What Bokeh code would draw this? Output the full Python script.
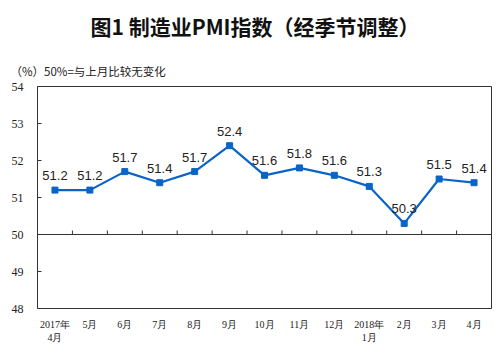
from bokeh.plotting import figure
from bokeh.models import FixedTicker, Range1d, Span, ColumnDataSource, Title
from bokeh.core.properties import value
from bokeh.embed import file_html
from bokeh.resources import INLINE

months = ["2017年\n4月", "5月", "6月", "7月", "8月", "9月", "10月", "11月", "12月",
          "2018年\n1月", "2月", "3月", "4月"]
pmi = [51.2, 51.2, 51.7, 51.4, 51.7, 52.4, 51.6, 51.8, 51.6, 51.3, 50.3, 51.5, 51.4]
y_ticks = [48, 49, 50, 51, 52, 53, 54]
baseline = 50
title_text = "图1 制造业PMI指数（经季节调整）"
note_text = "（%）50%=与上月比较无变化"

n = len(months)
xs = [i + 0.5 for i in range(n)]
labels = [f"{v:.1f}" for v in pmi]

p = figure(width=498, height=355, output_backend="svg", toolbar_location=None,
           x_range=Range1d(0, n), y_range=Range1d(y_ticks[0], y_ticks[-1]),
           min_border_left=37, min_border_right=7, min_border_top=86, min_border_bottom=47)
p.outline_line_color = "#333333"
p.outline_line_width = 1
p.xgrid.visible = False
p.ygrid.visible = False
p.background_fill_color = "white"
p.border_fill_color = "white"

# main title (outermost)
p.title.text = title_text
p.title.align = "left"
p.title.offset = 53
p.title.standoff = 20
p.title.vertical_align = "top"
p.title.text_line_height = 1.0
p.title.text_font = "Noto Sans CJK SC"
p.title.text_font_style = "bold"
p.title.text_font_size = "21px"
p.title.text_color = "#111111"

# y axis
p.yaxis.ticker = FixedTicker(ticks=y_ticks)
p.yaxis.axis_line_color = None
p.yaxis.major_tick_in = 4
p.yaxis.major_tick_out = 0
p.yaxis.minor_tick_line_color = None
p.yaxis.major_tick_line_color = "#333333"
p.yaxis.major_label_text_font = "serif"
p.yaxis.major_label_text_font_size = "12px"
p.yaxis.major_label_text_color = "#222222"
p.yaxis.major_label_standoff = 14

# x axis
p.xaxis.ticker = FixedTicker(ticks=xs)
p.xaxis.major_label_overrides = {x: m for x, m in zip(xs, months)}
p.xaxis.axis_line_color = None
p.xaxis.major_tick_line_color = None
p.xaxis.minor_tick_line_color = None
p.xaxis.major_label_text_font = "serif"
p.xaxis.major_label_text_font_size = "10px"
p.xaxis.major_label_text_color = "#222222"
p.xaxis.major_label_standoff = 4

# baseline at 50
p.add_layout(Span(location=baseline, dimension="width", line_color="#333333", line_width=1))
tick_len = 4 / 37.0
bx = list(range(1, n))
p.segment(x0=bx, y0=[baseline] * len(bx), x1=bx, y1=[baseline + tick_len] * len(bx),
          line_color="#333333", line_width=1)

src = ColumnDataSource(dict(x=xs, y=pmi, t=labels))
p.line("x", "y", source=src, line_color="#0a64c8", line_width=2.2)
p.scatter("x", "y", source=src, marker="square", size=6, fill_color="#0a64c8", line_color="#0a64c8")
p.text("x", "y", text="t", source=src, text_align="center", text_baseline="bottom",
       y_offset=-10, text_font=value("Liberation Sans"), text_font_size="13px",
       text_color="#222222")

# note just above the frame
p.add_layout(Title(text=note_text, align="left", offset=-27, standoff=16,
                   text_font="Noto Sans CJK SC", text_font_style="normal",
                   text_font_size="11.5px", text_color="#222222"), "above")

open("out.html", "w").write(file_html(p, INLINE))
